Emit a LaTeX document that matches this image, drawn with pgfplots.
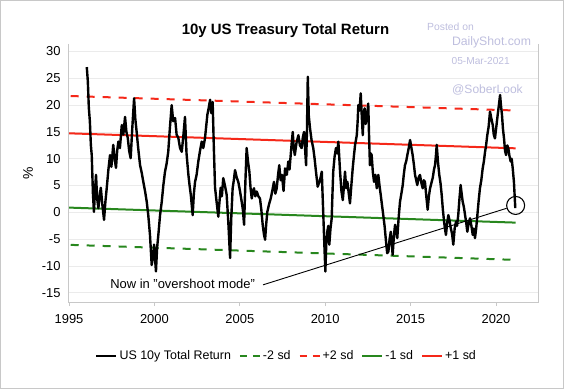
\documentclass[border=0pt]{standalone}
\usepackage{pgfplots}
\pgfplotsset{compat=1.18}
\usepackage{fontspec}
\setmainfont{Liberation Sans}
\definecolor{cred}{RGB}{245,40,25}
\definecolor{cgreen}{RGB}{40,135,30}
\definecolor{wm}{RGB}{190,190,222}
\definecolor{gridc}{RGB}{235,235,235}
\definecolor{framec}{RGB}{200,200,200}
\begin{document}
\begin{tikzpicture}
\path[use as bounding box] (-68bp,-87bp) rectangle (496bp,302bp);
\draw[framec, line width=1bp] (-67.5bp,-86.5bp) rectangle (495.5bp,301.5bp);
\begin{axis}[
  scale only axis, width=470bp, height=258bp,
  xmin=1994.94, xmax=2022.46, ymin=-16.7, ymax=31.4,
  axis line style={draw=none},
  xtick={1995,2000,2005,2010,2015,2020},
  ytick={-15,-10,-5,0,5,10,15,20,25,30},
  xtick pos=bottom, tick align=outside,
  major tick length=4bp,
  x tick style={framec, line width=0.8bp},
  y tick style={draw=none},
  ymajorgrids, grid style={gridc, line width=0.8bp},
  /pgf/number format/assume math mode=true,
  xticklabel style={/pgf/number format/1000 sep={}, font=\fontsize{13}{15}\selectfont, yshift=-5bp},
  yticklabel style={font=\fontsize{13}{15}\selectfont},
  legend style={at={(0.465,-0.21)}, anchor=center, draw=none, fill=none,
    legend columns=-1, font=\fontsize{12.5}{14}\selectfont,
    /tikz/every even column/.append style={column sep=6bp},
    inner sep=0pt},
  legend image code/.code={\draw[#1] (0bp,0bp) -- (20bp,0bp);},
  clip=false,
]
\addlegendimage{black, line width=2.4bp}
\addlegendentry{US 10y Total Return}
\addlegendimage{cgreen, line width=2bp, dash pattern=on 7bp off 6bp}
\addlegendentry{-2 sd}
\addlegendimage{cred, line width=2bp, dash pattern=on 7bp off 6bp}
\addlegendentry{+2 sd}
\addlegendimage{cgreen, line width=2bp}
\addlegendentry{-1 sd}
\addlegendimage{cred, line width=2bp}
\addlegendentry{+1 sd}

\addplot[forget plot, cred, line width=2bp, dash pattern=on 8bp off 8bp] coordinates {(1995.1,21.7) (2021.15,19.0)};
\addplot[forget plot, cred, line width=2bp] coordinates {(1995.0,14.75) (2021.15,11.95)};
\addplot[forget plot, cgreen, line width=2bp] coordinates {(1995.0,0.9) (2021.15,-1.9)};
\addplot[forget plot, cgreen, line width=2bp, dash pattern=on 8bp off 8bp] coordinates {(1995.1,-6.05) (2021.15,-8.85)};

\addplot[forget plot, black, line width=2.4bp, line join=round] coordinates {
(1996.04,27.1) (1996.10,24.5) (1996.16,19.5) (1996.22,17.0) (1996.28,12.5) (1996.33,10.7) (1996.40,3.5) (1996.46,0.1) (1996.52,4.0) (1996.58,7.0) (1996.65,2.5) (1996.72,0.8) (1996.79,3.0) (1996.86,4.6) (1996.95,1.5) (1997.05,-1.4) (1997.13,2.0) (1997.21,4.6) (1997.30,7.8) (1997.40,10.7) (1997.48,8.5) (1997.59,12.6) (1997.67,10.0) (1997.75,8.3) (1997.82,11.5) (1997.89,13.2) (1997.98,12.0) (1998.09,16.3) (1998.18,14.5) (1998.28,17.8) (1998.36,15.0) (1998.44,13.9) (1998.52,11.5) (1998.61,10.1) (1998.70,15.5) (1998.81,21.3) (1998.88,17.5) (1998.96,15.0) (1999.05,12.0) (1999.16,8.8) (1999.25,7.5) (1999.35,5.7) (1999.45,4.0) (1999.55,2.0) (1999.64,-0.5) (1999.74,-4.2) (1999.84,-9.8) (1999.94,-7.9) (1999.98,-6.0) (2000.09,-11.0) (2000.16,-6.5) (2000.23,-4.2) (2000.33,-0.5) (2000.43,2.0) (2000.52,5.0) (2000.62,7.6) (2000.71,9.0) (2000.81,11.3) (2000.90,15.5) (2001.01,20.0) (2001.10,17.0) (2001.21,17.6) (2001.30,14.5) (2001.40,13.9) (2001.50,12.0) (2001.60,11.3) (2001.70,14.5) (2001.79,17.8) (2001.88,11.0) (2001.99,7.0) (2002.06,5.0) (2002.13,3.3) (2002.24,-0.5) (2002.31,3.5) (2002.38,5.7) (2002.47,7.0) (2002.57,9.5) (2002.67,11.5) (2002.77,13.2) (2002.86,12.0) (2002.96,13.8) (2003.03,16.0) (2003.10,18.2) (2003.18,19.5) (2003.26,21.0) (2003.33,18.5) (2003.41,20.6) (2003.48,12.0) (2003.55,4.6) (2003.64,2.0) (2003.74,-0.8) (2003.81,2.0) (2003.88,4.6) (2003.95,3.0) (2004.03,6.4) (2004.13,5.0) (2004.23,3.3) (2004.33,-2.0) (2004.43,-8.5) (2004.50,-1.0) (2004.58,4.5) (2004.65,6.0) (2004.72,7.9) (2004.82,6.5) (2004.91,5.7) (2005.01,4.0) (2005.11,2.0) (2005.18,0.5) (2005.25,-2.3) (2005.33,6.0) (2005.40,12.0) (2005.48,9.5) (2005.56,7.6) (2005.63,4.5) (2005.70,2.6) (2005.77,4.0) (2005.83,4.5) (2005.91,3.0) (2005.99,3.9) (2006.09,3.0) (2006.18,2.6) (2006.26,0.5) (2006.34,-2.3) (2006.41,-4.0) (2006.48,-5.1) (2006.55,-2.0) (2006.61,0.1) (2006.71,1.5) (2006.81,2.6) (2006.90,4.0) (2007.00,5.7) (2007.08,3.5) (2007.16,4.5) (2007.24,7.0) (2007.31,8.8) (2007.39,6.0) (2007.47,7.0) (2007.56,4.0) (2007.65,8.2) (2007.75,7.0) (2007.84,9.5) (2007.91,8.0) (2007.98,10.7) (2008.04,13.0) (2008.10,15.0) (2008.16,12.0) (2008.22,10.7) (2008.32,13.0) (2008.43,14.4) (2008.52,12.5) (2008.62,12.0) (2008.69,14.0) (2008.76,15.0) (2008.82,12.0) (2008.88,8.8) (2008.93,15.0) (2008.98,25.3) (2009.04,18.0) (2009.11,15.7) (2009.20,13.5) (2009.30,12.0) (2009.38,10.0) (2009.46,7.6) (2009.56,4.8) (2009.66,5.7) (2009.73,6.5) (2009.80,7.6) (2009.85,3.0) (2009.89,-0.5) (2009.95,-6.0) (2010.01,-11.0) (2010.06,-6.0) (2010.12,-3.6) (2010.18,-2.5) (2010.24,-6.0) (2010.31,-3.0) (2010.38,-1.1) (2010.42,3.0) (2010.47,7.6) (2010.55,10.4) (2010.63,12.0) (2010.70,11.0) (2010.77,13.2) (2010.82,10.5) (2010.87,7.6) (2010.95,4.0) (2011.03,2.3) (2011.10,5.0) (2011.16,7.6) (2011.23,4.5) (2011.30,5.7) (2011.38,3.5) (2011.45,1.7) (2011.53,5.0) (2011.61,8.2) (2011.68,10.5) (2011.75,12.6) (2011.85,14.4) (2011.90,17.0) (2011.94,20.0) (2012.01,19.0) (2012.08,22.2) (2012.14,18.0) (2012.20,14.4) (2012.25,18.5) (2012.31,19.4) (2012.37,16.5) (2012.43,17.5) (2012.48,19.0) (2012.52,20.3) (2012.57,14.0) (2012.62,8.8) (2012.67,11.0) (2012.72,10.7) (2012.79,7.5) (2012.86,5.7) (2012.94,7.0) (2013.02,4.5) (2013.06,6.0) (2013.11,7.0) (2013.18,5.0) (2013.25,3.3) (2013.32,1.5) (2013.40,-0.5) (2013.48,-2.6) (2013.56,-5.4) (2013.63,-7.6) (2013.70,-7.3) (2013.77,-5.0) (2013.84,-3.6) (2013.90,-6.0) (2013.95,-7.9) (2014.02,-4.5) (2014.09,-2.3) (2014.15,-3.5) (2014.22,-4.8) (2014.30,-1.0) (2014.38,2.0) (2014.46,3.5) (2014.54,5.1) (2014.60,7.0) (2014.67,8.8) (2014.74,9.5) (2014.81,10.7) (2014.89,12.0) (2014.97,13.5) (2015.05,12.0) (2015.12,10.7) (2015.19,9.0) (2015.26,7.0) (2015.33,6.0) (2015.39,5.1) (2015.47,6.5) (2015.55,7.0) (2015.63,5.5) (2015.71,4.5) (2015.77,6.0) (2015.84,5.7) (2015.92,3.0) (2016.00,0.5) (2016.07,3.0) (2016.14,4.5) (2016.22,5.5) (2016.30,6.5) (2016.37,8.0) (2016.43,8.8) (2016.48,10.5) (2016.53,12.6) (2016.60,9.5) (2016.68,7.0) (2016.75,5.5) (2016.82,3.3) (2016.89,0.5) (2016.96,-1.7) (2017.01,-3.0) (2017.07,-4.2) (2017.14,-2.0) (2017.21,-0.5) (2017.28,-1.5) (2017.35,-2.9) (2017.43,-4.0) (2017.50,-6.0) (2017.58,-3.0) (2017.66,-1.7) (2017.72,-2.5) (2017.79,-0.5) (2017.86,2.5) (2017.93,5.1) (2017.99,3.5) (2018.05,2.0) (2018.12,1.0) (2018.19,-0.5) (2018.26,-2.0) (2018.32,-3.6) (2018.40,-2.0) (2018.48,-1.1) (2018.56,-2.5) (2018.64,-4.2) (2018.70,-3.0) (2018.77,-4.8) (2018.84,-3.0) (2018.91,-0.5) (2018.98,2.0) (2019.06,4.5) (2019.14,6.0) (2019.22,8.2) (2019.29,9.5) (2019.36,11.3) (2019.42,12.5) (2019.49,14.4) (2019.57,16.0) (2019.65,18.8) (2019.73,17.5) (2019.81,16.3) (2019.87,14.5) (2019.94,13.8) (2020.02,16.0) (2020.10,18.2) (2020.17,20.0) (2020.24,21.9) (2020.29,20.0) (2020.35,18.2) (2020.41,15.5) (2020.47,13.8) (2020.53,11.5) (2020.59,10.7) (2020.66,12.5) (2020.72,12.0) (2020.79,10.5) (2020.86,9.5) (2020.92,10.0) (2020.98,8.2) (2021.05,5.7) (2021.13,0.8)
};

\node[draw=black, line width=1.1bp, circle, minimum size=18bp, inner sep=0pt] (circ) at (axis cs:2021.15,1.3) {};
\draw[black, line width=0.9bp] (axis cs:2006.36,-13.5) -- (circ);
\node[anchor=east, font=\fontsize{13}{15}\selectfont, inner sep=0pt] at (axis cs:2005.9,-13.3) {Now in "overshoot mode"};
\draw[framec, line width=1bp] (rel axis cs:0,1) -- (rel axis cs:0,0) -- (rel axis cs:1,0) -- (rel axis cs:1,1);
\end{axis}
\node[font=\fontsize{15}{17}\selectfont\bfseries] at (217.5bp,271.5bp) {10y US Treasury Total Return};
\node[wm, font=\fontsize{10.4}{12}\selectfont] at (382.5bp,275.3bp) {Posted on};
\node[wm, font=\fontsize{12.3}{14}\selectfont] at (423.5bp,259.3bp) {DailyShot.com};
\node[wm, font=\fontsize{10.2}{12}\selectfont] at (412.7bp,241.3bp) {05-Mar-2021};
\node[wm, font=\fontsize{12.1}{14}\selectfont] at (419.5bp,212bp) {@SoberLook};
\node[rotate=90, font=\fontsize{14}{16}\selectfont] at (-40bp,129bp) {\%};
\end{tikzpicture}
\end{document}
